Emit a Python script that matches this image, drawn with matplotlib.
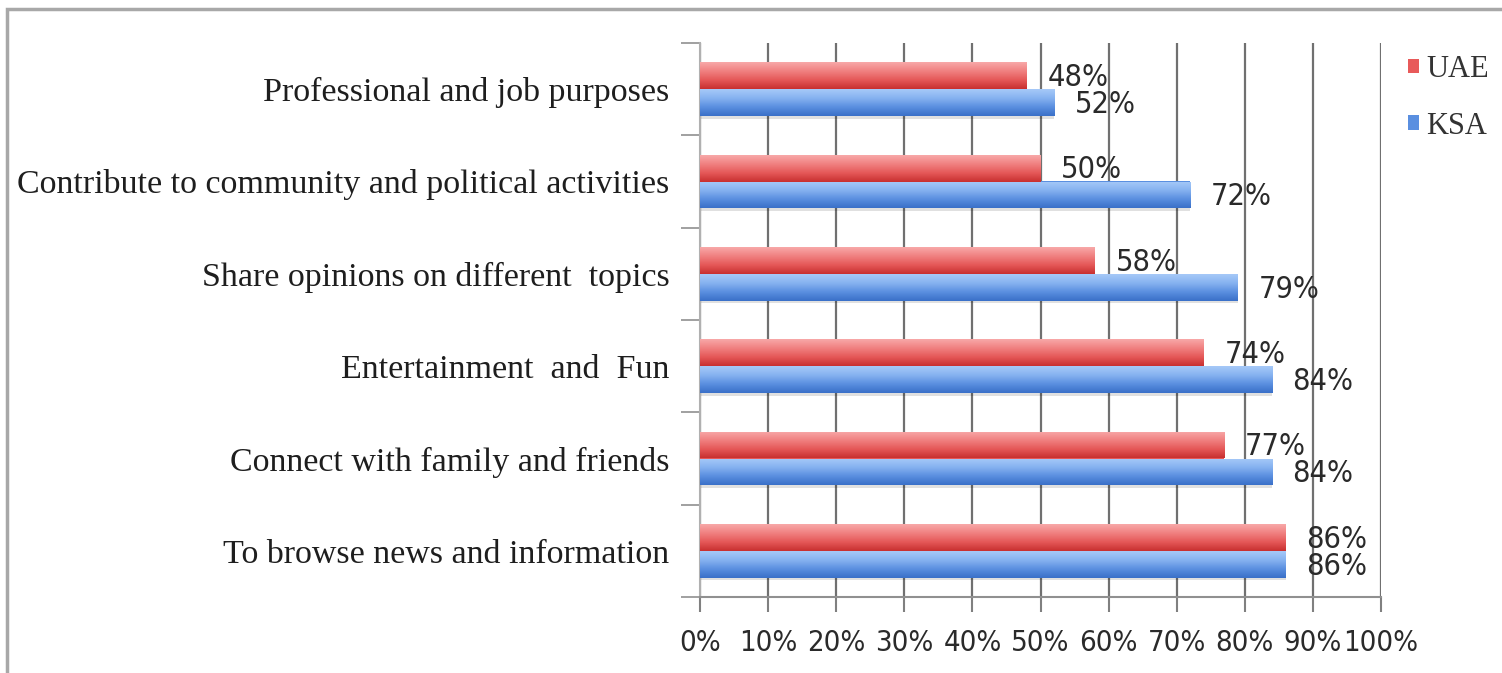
import numpy as np
import matplotlib
matplotlib.use("Agg")
import matplotlib.pyplot as plt
from matplotlib.patches import Rectangle, Patch
from matplotlib.colors import LinearSegmentedColormap

categories = [
    "To browse news and information",
    "Connect with family and friends",
    "Entertainment  and  Fun",
    "Share opinions on different  topics",
    "Contribute to community and political activities",
    "Professional and job purposes",
]
uae = [86, 77, 74, 58, 50, 48]
ksa = [86, 84, 84, 79, 72, 52]
series_names = ["UAE", "KSA"]
xticks = list(range(0, 101, 10))
xtick_labels = [f"{v}%" for v in xticks]

W, H = 1502, 673
fig = plt.figure(figsize=(W / 100, H / 100), dpi=100)
fig.patch.set_facecolor("white")
ax = fig.add_axes([700 / W, 1 - 597 / H, 681 / W, (597 - 43) / H])

serif = ["Liberation Serif", "DejaVu Serif"]
sans = ["DejaVu Sans"]
sans_kw = dict(family=sans, stretch="condensed")

y = np.arange(len(categories))
h = 0.29
red_cmap = LinearSegmentedColormap.from_list("r", ["#c83030", "#e55858", "#f08080", "#f8a8a8"])
blue_cmap = LinearSegmentedColormap.from_list("b", ["#3a70c8", "#5a8fe0", "#86b2f0", "#a6c9f8"])

# shadows
ax.barh(y + h / 2 - 0.03, uae, height=h, color="black", alpha=0.10, zorder=2, linewidth=0)
ax.barh(y - h / 2 - 0.03, ksa, height=h, color="black", alpha=0.12, zorder=2, linewidth=0)
bars_r = ax.barh(y + h / 2, uae, height=h, color="#e55858", zorder=3, linewidth=0)
bars_b = ax.barh(y - h / 2, ksa, height=h, color="#5a8fe0", zorder=3, linewidth=0)

grad = np.linspace(0, 1, 64).reshape(-1, 1)
for bars, cmap in ((bars_r, red_cmap), (bars_b, blue_cmap)):
    for p in bars:
        x0, y0, w, hh = p.get_x(), p.get_y(), p.get_width(), p.get_height()
        im = ax.imshow(grad, cmap=cmap, extent=(x0, x0 + w, y0, y0 + hh),
                       origin="lower", aspect="auto", zorder=4, interpolation="bicubic")
        im.set_clip_path(p)

for i in range(len(categories)):
    ax.text(uae[i] + 3, y[i] + h / 2 - 0.02, f"{uae[i]}%", va="center", ha="left",
            fontsize=22, color="#2a2a2a", zorder=6, **sans_kw)
    ax.text(ksa[i] + 3, y[i] - h / 2 - 0.02, f"{ksa[i]}%", va="center", ha="left",
            fontsize=22, color="#2a2a2a", zorder=6, **sans_kw)

ax.set_xlim(0, 100)
ax.set_ylim(-0.5, len(categories) - 0.5)
ax.set_xticks(xticks)
ax.set_xticklabels(xtick_labels, fontsize=21, color="#2a2a2a", **sans_kw)
ax.tick_params(axis="x", length=11, width=1.5, color="#808080", pad=12)

ax.set_yticks(np.arange(len(categories) + 1) - 0.5)
ax.set_yticklabels([])
ax.tick_params(axis="y", which="major", length=14, width=1.2, color="#909090")
ax.set_yticks(y, minor=True)
ax.set_yticklabels(categories, minor=True, family=serif, fontsize=24.5, color="#1e1e1e")
ax.tick_params(axis="y", which="minor", length=0, pad=22)

ax.grid(axis="x", color="#707070", linewidth=1.6, zorder=1)
ax.set_axisbelow(True)
for s in ("top", "right"):
    ax.spines[s].set_visible(False)
ax.spines["left"].set_color("#b0b0b0")
ax.spines["left"].set_linewidth(1.5)
ax.spines["bottom"].set_color("#909090")
ax.spines["bottom"].set_linewidth(1.5)

handles = [Patch(facecolor="#e85a5a", edgecolor="none"), Patch(facecolor="#5a8fe0", edgecolor="none")]
fig.legend(handles, series_names, loc="upper left", bbox_to_anchor=(1408 / W, 1 - 55 / H),
           frameon=False, prop={"family": serif, "size": 22},
           borderpad=0, borderaxespad=0,
           handlelength=0.35, handleheight=0.35, handletextpad=0.25, labelspacing=0.9,
           labelcolor="#333333")

fig.add_artist(Rectangle((7 / W, -0.1), 2, 1.1 - 9 / H, transform=fig.transFigure,
                         fill=False, edgecolor="#a8a8a8", linewidth=2.5))

fig.savefig("out.png", dpi=100)
